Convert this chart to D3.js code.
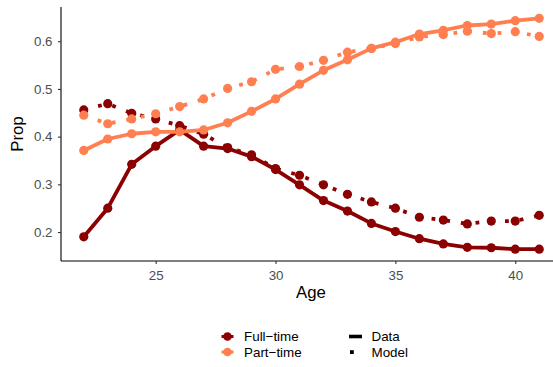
<!DOCTYPE html>
<html>
<head>
<meta charset="utf-8">
<script src="https://cdn.jsdelivr.net/npm/d3@7"></script>
<style>
  body { margin: 0; background: #fff; }
  text { font-family: "Liberation Sans", Arial, sans-serif; }
</style>
</head>
<body>
<div id="chart"></div>
<script>
// ages on the x axis
const ages = [22, 23, 24, 25, 26, 27, 28, 29, 30, 31, 32, 33, 34, 35, 36, 37, 38, 39, 40, 41];

const fullData  = [0.190, 0.250, 0.342, 0.380, 0.414, 0.380, 0.375, 0.358, 0.331, 0.299, 0.266, 0.244, 0.218, 0.201, 0.186, 0.175, 0.168, 0.167, 0.164, 0.164];
const fullModel = [0.456, 0.469, 0.449, 0.437, 0.423, 0.405, 0.377, 0.362, 0.333, 0.319, 0.299, 0.279, 0.263, 0.250, 0.231, 0.225, 0.217, 0.223, 0.223, 0.235];
const partData  = [0.371, 0.395, 0.406, 0.410, 0.410, 0.414, 0.429, 0.453, 0.479, 0.510, 0.539, 0.561, 0.585, 0.598, 0.615, 0.623, 0.633, 0.636, 0.643, 0.648];
const partModel = [0.445, 0.427, 0.437, 0.448, 0.463, 0.479, 0.501, 0.515, 0.541, 0.547, 0.560, 0.577, 0.585, 0.595, 0.609, 0.614, 0.621, 0.616, 0.620, 0.610];

const yTicks = [0.2, 0.3, 0.4, 0.5, 0.6];
const xTicks = [25, 30, 35, 40];

const colFull = "#8B0000", colPart = "#FF7F50";

const W = 553, H = 367;
const svg = d3.select("#chart").append("svg")
    .attr("width", W).attr("height", H);

// panel edges
const pLeft = 61, pRight = 562, pTop = 7, pBottom = 261;

const x = d3.scaleLinear().domain([21.05, 41.95]).range([pLeft, pRight]);
const y = d3.scaleLinear().domain([0.13925, 0.67175]).range([pBottom, pTop]);

// axes
const xAxis = svg.append("g")
    .attr("transform", `translate(0,${pBottom})`)
    .call(d3.axisBottom(x).tickValues(xTicks).tickSize(3).tickPadding(6.5).tickFormat(d3.format("d")));
const yAxis = svg.append("g")
    .attr("transform", `translate(${pLeft},0)`)
    .call(d3.axisLeft(y).tickValues(yTicks).tickSize(3).tickPadding(5.5).tickFormat(d3.format(".1f")));

[xAxis, yAxis].forEach(a => {
  a.select(".domain").attr("stroke", "#000").attr("stroke-width", 1.1);
  a.selectAll(".tick line").attr("stroke", "#333").attr("stroke-width", 1.1);
  a.selectAll(".tick text").attr("fill", "#4D4D4D").style("font-size", "13.3px")
    .style("font-family", "'Liberation Sans', Arial, sans-serif");
});
// axis lines span the whole panel
xAxis.select(".domain").attr("d", `M${pLeft},0H${pRight}`);
yAxis.select(".domain").attr("d", `M0,${pTop}V${pBottom}`);

// axis titles
svg.append("text")
   .attr("x", 311).attr("y", 298)
   .attr("text-anchor", "middle")
   .style("font-size", "16.8px")
   .text("Age");
svg.append("text")
   .attr("transform", `translate(23,${(pTop + pBottom) / 2}) rotate(-90)`)
   .attr("text-anchor", "middle")
   .style("font-size", "16.8px")
   .text("Prop");

const series = [
  { vals: fullModel, color: colFull, dashed: true },
  { vals: partModel, color: colPart, dashed: true },
  { vals: fullData, color: colFull, dashed: false },
  { vals: partData, color: colPart, dashed: false }
];

const line = d3.line()
    .x((d, i) => x(ages[i]))
    .y(d => y(d));

const plot = svg.append("g");

series.forEach(s => {
  plot.append("path")
      .datum(s.vals)
      .attr("fill", "none")
      .attr("stroke", s.color)
      .attr("stroke-width", 3.8)
      .attr("stroke-dasharray", s.dashed ? "3.8,11" : null)
      .attr("stroke-linejoin", "round")
      .attr("d", line);
});

series.forEach(s => {
  plot.selectAll(null)
      .data(s.vals)
      .enter()
      .append("circle")
      .attr("cx", (d, i) => x(ages[i]))
      .attr("cy", d => y(d))
      .attr("r", 4.6)
      .attr("fill", s.color);
});

// legend
const legend = svg.append("g");
const colorKeys = [
  { label: "Full\u2212time", color: colFull, y: 336.5 },
  { label: "Part\u2212time", color: colPart, y: 352 }
];
colorKeys.forEach(k => {
  legend.append("line")
        .attr("x1", 221.5).attr("x2", 233.5)
        .attr("y1", k.y).attr("y2", k.y)
        .attr("stroke", k.color).attr("stroke-width", 3);
  legend.append("circle")
        .attr("cx", 227.5).attr("cy", k.y).attr("r", 4.3)
        .attr("fill", k.color);
  legend.append("text")
        .attr("x", 244).attr("y", k.y + 4.7)
        .style("font-size", "13.4px")
        .text(k.label);
});

legend.append("line")
      .attr("x1", 349).attr("x2", 362)
      .attr("y1", 336.5).attr("y2", 336.5)
      .attr("stroke", "#000").attr("stroke-width", 3.6);
legend.append("rect")
      .attr("x", 350).attr("y", 350.2)
      .attr("width", 3.8).attr("height", 3.8)
      .attr("fill", "#000");
legend.append("text").attr("x", 371.5).attr("y", 341.2).style("font-size", "13.4px").text("Data");
legend.append("text").attr("x", 371.5).attr("y", 356.7).style("font-size", "13.4px").text("Model");
</script>
</body>
</html>
